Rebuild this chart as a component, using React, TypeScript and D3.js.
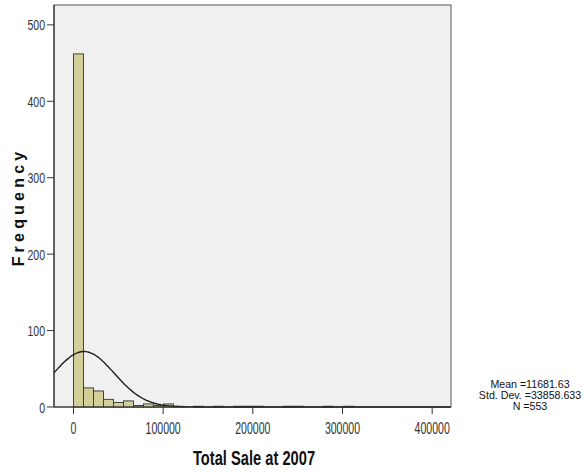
import React from "react";
import * as d3 from "d3";

const binStart = 0;
const binWidth = 11150;
const counts = [462, 25, 21, 10, 6, 8, 2, 4, 2, 4, 1, 0, 1, 0, 1, 0, 1, 1, 1, 0, 0, 1, 1, 0, 0, 1, 0, 1];
const xTicks = [0, 100000, 200000, 300000, 400000];
const yTicks = [0, 100, 200, 300, 400, 500];
const mean = 11681.63;
const sd = 33858.633;
const n = 553;
const statLines = ["Mean =11681.63", "Std. Dev. =33858.633", "N =553"];

const W = 584, H = 472;
const plot = { left: 54, right: 451, top: 5, bottom: 407 };
const FONT = "'Liberation Sans', Arial, sans-serif";

function NText(props: { x: number; y: number; sx: number; size: number; anchor?: string; weight?: string; fill?: string; children: any }) {
  const { x, y, sx, size, anchor = "middle", weight = "normal", fill = "#222", children } = props;
  return (
    <text transform={`translate(${x},${y}) scale(${sx},1)`} textAnchor={anchor} fontFamily={FONT}
      fontSize={size} fontWeight={weight} fill={fill}>{children}</text>
  );
}

export default function App() {
  const x = d3.scaleLinear().domain([-21700, 421000]).range([plot.left, plot.right]);
  const y = d3.scaleLinear().domain([0, 526]).range([plot.bottom, plot.top]);

  const scale = n * binWidth / (sd * Math.sqrt(2 * Math.PI));
  const xs = d3.range(x.domain()[0], x.domain()[1] + 1, 2000);
  const line = d3.line<number>()
    .x(v => x(v))
    .y(v => y(scale * Math.exp(-0.5 * ((v - mean) / sd) ** 2)))
    .curve(d3.curveBasis);

  return (
    <svg width={W} height={H} style={{ position: "absolute", left: 0, top: 0, background: "#fff" }}>
      <rect x={plot.left} y={plot.top} width={plot.right - plot.left} height={plot.bottom - plot.top}
        fill="#f0f0f0" stroke="#555" strokeWidth={1} />
      {counts.map((c, i) => {
        if (c <= 0) return null;
        const x0 = x(binStart + i * binWidth);
        const x1 = x(binStart + (i + 1) * binWidth);
        return (
          <rect key={i} x={x0} y={y(c)} width={x1 - x0} height={y(0) - y(c)}
            fill="#d3cf98" stroke="#333" strokeWidth={0.9} />
        );
      })}
      <path d={line(xs) || ""} fill="none" stroke="#222" strokeWidth={1.4} />
      <line x1={plot.left} x2={plot.left} y1={plot.top} y2={plot.bottom} stroke="#333" strokeWidth={1.2} />
      <line x1={plot.left} x2={plot.right} y1={plot.bottom} y2={plot.bottom} stroke="#333" strokeWidth={1.2} />
      {yTicks.map(t => (
        <g key={t}>
          <line x1={plot.left - 7} x2={plot.left} y1={y(t)} y2={y(t)} stroke="#333" strokeWidth={1} />
          <NText x={plot.left - 9} y={y(t) + 5.5} sx={0.68} size={15.5} anchor="end" fill="#333">{t}</NText>
        </g>
      ))}
      {xTicks.map(t => (
        <g key={t}>
          <line x1={x(t)} x2={x(t)} y1={plot.bottom} y2={plot.bottom + 7} stroke="#333" strokeWidth={1} />
          <NText x={x(t)} y={plot.bottom + 27} sx={0.66} size={16} fill="#333">{t}</NText>
        </g>
      ))}
      <NText x={254} y={465} sx={0.7} size={21} weight="bold" fill="#111">Total Sale at 2007</NText>
      <text transform="translate(23.5,207) rotate(-90)" textAnchor="middle" fontFamily={FONT}
        fontWeight="bold" fontSize={16} letterSpacing={4.2} fill="#111">Frequency</text>
      {statLines.map((s, i) => (
        <NText key={i} x={530} y={387.5 + i * 11} sx={0.95} size={11.2} fill="#111">{s}</NText>
      ))}
    </svg>
  );
}
